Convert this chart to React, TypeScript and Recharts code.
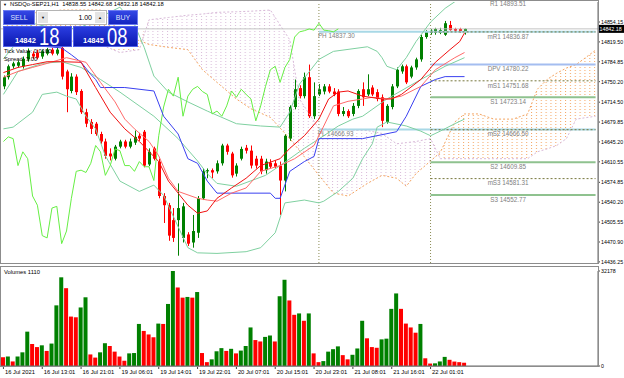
import React from 'react'
import { Area, Bar, Cell, ComposedChart, Line, ReferenceLine, XAxis, YAxis } from 'recharts'

const FONT = '"Liberation Sans", Arial, sans-serif'

// hourly candles, 16 Jul - 22 Jul 2021
const opens = [
  14742, 14758, 14777, 14778, 14777, 14789, 14799, 14801, 14794, 14799, 14806, 14799,
  14809, 14768, 14734, 14759, 14734, 14697, 14680, 14677, 14659, 14646, 14625, 14616,
  14637, 14646, 14637, 14644, 14656, 14663, 14606, 14634, 14611, 14551, 14535, 14509,
  14509, 14478, 14484, 14470, 14487, 14547, 14594, 14596, 14594, 14608, 14639, 14625,
  14590, 14616, 14635, 14630, 14616, 14616, 14596, 14609, 14608, 14604, 14578, 14651,
  14706, 14739, 14725, 14758, 14690, 14728, 14733, 14742, 14733, 14733, 14694, 14699,
  14694, 14708, 14737, 14728, 14740, 14732, 14723, 14680, 14706, 14742, 14768, 14777,
  14759, 14775, 14789, 14828, 14835, 14835, 14835, 14832, 14849, 14842, 14842, 14838.55,
]
const highs = [
  14761, 14780, 14785, 14787, 14794, 14808, 14803, 14806, 14806, 14809, 14809, 14811,
  14811, 14771, 14765, 14763, 14737, 14703, 14685, 14680, 14663, 14651, 14634, 14640,
  14649, 14649, 14651, 14665, 14661, 14666, 14634, 14637, 14616, 14556, 14539, 14530,
  14573, 14539, 14488, 14518, 14551, 14599, 14599, 14599, 14613, 14642, 14642, 14628,
  14608, 14637, 14640, 14639, 14621, 14621, 14616, 14615, 14613, 14611, 14659, 14709,
  14754, 14744, 14766, 14780, 14749, 14746, 14746, 14746, 14739, 14737, 14706, 14702,
  14713, 14737, 14749, 14763, 14744, 14737, 14728, 14711, 14746, 14775, 14780, 14780,
  14778, 14792, 14832, 14840, 14842, 14844, 14844, 14856, 14856, 14844, 14844, 14842.68,
]
const lows = [
  14737, 14754, 14773, 14775, 14773, 14785, 14790, 14789, 14790, 14796, 14796, 14796,
  14754, 14697, 14730, 14727, 14694, 14671, 14659, 14656, 14642, 14616, 14613, 14613,
  14634, 14634, 14634, 14640, 14647, 14601, 14603, 14613, 14547, 14504, 14473, 14471,
  14447, 14470, 14464, 14461, 14478, 14544, 14582, 14582, 14590, 14604, 14623, 14583,
  14585, 14613, 14625, 14599, 14599, 14589, 14590, 14599, 14599, 14518, 14559, 14647,
  14702, 14721, 14721, 14687, 14685, 14725, 14728, 14730, 14725, 14690, 14690, 14687,
  14690, 14704, 14708, 14725, 14725, 14716, 14671, 14677, 14702, 14739, 14764, 14746,
  14756, 14771, 14785, 14825, 14832, 14832, 14833, 14830, 14839, 14837, 14835, 14832.18,
]
const closes = [
  14758, 14777, 14782, 14784, 14790, 14804, 14794, 14792, 14803, 14806, 14799, 14806,
  14759, 14737, 14759, 14732, 14697, 14677, 14668, 14659, 14646, 14621, 14620, 14637,
  14646, 14637, 14646, 14654, 14651, 14604, 14628, 14616, 14551, 14535, 14482, 14478,
  14530, 14533, 14468, 14490, 14547, 14594, 14596, 14592, 14608, 14639, 14628, 14587,
  14604, 14633, 14630, 14604, 14604, 14594, 14611, 14602, 14602, 14578, 14656, 14706,
  14737, 14725, 14758, 14690, 14725, 14737, 14742, 14733, 14728, 14694, 14699, 14690,
  14708, 14734, 14723, 14737, 14728, 14720, 14682, 14708, 14742, 14771, 14777, 14749,
  14775, 14789, 14828, 14837, 14839, 14842, 14840, 14852, 14840, 14839, 14837, 14842.18,
]
const volumes = [
  2968, 3206, 1544, 3206, 4631, 11636, 7480, 6412, 7005, 5106, 7599, 20541,
  30040, 26359, 16742, 16504, 19829, 23272, 3918, 2850, 4631, 7718, 6768, 4868,
  3206, 1781, 4275, 4393, 14248, 11874, 10686, 9736, 14367, 14248, 21016, 32178,
  26597, 23154, 23391, 23154, 25054, 4393, 1306, 2256, 4987, 6056, 5106, 5818,
  4275, 5224, 6768, 13061, 8787, 8312, 9855, 10330, 8312, 23629, 29209, 22204,
  17336, 17811, 15317, 17811, 4275, 1306, 1662, 4868, 5699, 6649, 3681, 2256,
  3800, 5937, 15317, 9380, 6412, 6174, 9024, 9261, 19354, 24579, 19354, 14367,
  13061, 11280, 14248, 2612, 831, 900, 1544, 3087, 2100, 1500, 1300, 1110,
]

const timeLabels = [
  '16 Jul 2021', '16 Jul 13:01', '16 Jul 21:01', '19 Jul 06:01', '19 Jul 14:01', '19 Jul 22:01',
  '20 Jul 07:01', '20 Jul 15:01', '20 Jul 23:01', '21 Jul 08:01', '21 Jul 16:01', '22 Jul 01:01',
]
const labelBars = [0, 8, 16, 24, 32, 40, 48, 56, 64, 72, 80, 88]
const priceTicks = [
  14854.15, 14819.5, 14784.85, 14750.2, 14714.5, 14679.85, 14645.2,
  14610.55, 14574.85, 14540.2, 14505.55, 14470.9, 14436.25,
]

// indicator readings as [bar, price]
const maFast = [
  [0, 14766], [3, 14775], [6, 14780], [9, 14785], [12, 14785], [16, 14784], [19, 14740], [22, 14697],
  [25, 14668], [28, 14646], [32, 14611], [34, 14577], [38, 14535], [40, 14521], [42, 14525], [44, 14547],
  [47, 14565], [50, 14582], [53, 14604], [57, 14616], [59, 14634], [62, 14656], [65, 14685], [67, 14720],
  [69, 14732], [71, 14734], [74, 14725], [78, 14720], [80, 14720], [82, 14728], [86, 14754], [89, 14784],
  [92, 14806], [94, 14820], [95, 14835],
]
const maSlow = [
  [0, 14758], [3, 14768], [6, 14775], [9, 14782], [13, 14792], [17, 14784], [20, 14749], [23, 14715],
  [25, 14685], [27, 14668], [30, 14646], [32, 14621], [34, 14582], [36, 14559], [40, 14547], [42, 14544],
  [44, 14542], [47, 14556], [50, 14565], [53, 14594], [57, 14604], [60, 14616], [64, 14639], [66, 14673],
  [68, 14708], [71, 14716], [74, 14720], [76, 14723], [79, 14720], [82, 14725], [86, 14742], [89, 14771],
  [93, 14792], [95, 14801],
]
const kijun = [
  [0, 14815], [8, 14812], [12, 14809], [14, 14797], [16, 14784], [18, 14763], [19, 14754], [20, 14740],
  [25, 14740], [31, 14734], [33, 14690], [36, 14659], [38, 14616], [40, 14608], [42, 14577], [44, 14556],
  [55, 14556], [56, 14547], [57, 14547], [59, 14594], [62, 14611], [64, 14620], [65, 14651], [74, 14651],
  [81, 14663], [83, 14690], [86, 14742], [89, 14754], [91, 14759], [95, 14759],
]
const bandUpper = [
  [0, 14790], [6, 14852], [12, 14840], [16, 14845], [20, 14863], [24, 14880], [27, 14850], [29, 14810],
  [31, 14760], [34, 14732], [38, 14715], [42, 14699], [48, 14677], [53, 14673], [57, 14671], [59, 14697],
  [61, 14746], [65, 14789], [68, 14803], [75, 14811], [77, 14803], [78, 14792], [79, 14777], [81, 14771],
  [83, 14792], [85, 14820], [88, 14854], [91, 14878], [95, 14901],
]
const bandMiddle = [
  [0, 14728], [3, 14768], [8, 14782], [12, 14785], [16, 14775], [20, 14754], [24, 14732], [31, 14690],
  [36, 14651], [40, 14612], [42, 14590], [44, 14573], [48, 14568], [54, 14587], [57, 14604], [59, 14616],
  [62, 14634], [66, 14656], [69, 14673], [72, 14685], [74, 14690], [79, 14720], [86, 14754], [91, 14777],
  [95, 14792],
]
const bandLower = [
  [0, 14668], [2, 14671], [6, 14697], [8, 14728], [11, 14732], [13, 14725], [15, 14720], [17, 14690],
  [19, 14668], [21, 14621], [24, 14577], [28, 14559], [31, 14570], [33, 14552], [38, 14461], [40, 14452],
  [44, 14451], [50, 14454], [53, 14461], [56, 14487], [58, 14539], [62, 14544], [65, 14539], [66, 14542],
  [69, 14559], [72, 14582], [74, 14616], [76, 14642], [77, 14671], [79, 14680], [83, 14673], [86, 14664],
  [88, 14656], [90, 14664], [93, 14677], [95, 14685],
]

// ichimoku cloud, projected 26 bars ahead
const cloudBars = [
  0, 6, 12, 20, 24, 28, 30, 34, 38, 41, 44, 48, 51, 55, 59, 61, 65, 68, 71,
  75, 78, 81, 83, 85, 88, 90, 93, 95, 98, 101, 105, 108, 110, 112, 114, 116, 118, 122,
]
const senkouA = [
  14866, 14870, 14875, 14875, 14840, 14822, 14815, 14810, 14806, 14771, 14749, 14720, 14703, 14688, 14651, 14630, 14587, 14556, 14551,
  14573, 14587, 14582, 14568, 14590, 14612, 14627, 14680, 14694, 14694, 14685, 14685, 14694, 14737, 14754, 14765, 14774, 14780, 14805,
]
const senkouB = [
  14823, 14823, 14823, 14815, 14801, 14806, 14858, 14862, 14866, 14868, 14871, 14872, 14873, 14875, 14823, 14720, 14668, 14667, 14666,
  14665, 14660, 14642, 14644, 14646, 14651, 14616, 14616, 14616, 14616, 14616, 14616, 14616, 14628, 14633, 14639, 14651, 14685, 14690,
]

const pivotNames = ['R1', 'mR1', 'DPV', 'mS1', 'S1', 'mS2', 'S2', 'mS3', 'S3']
const pivotValues = [14893.51, 14836.87, 14780.22, 14751.68, 14723.14, 14666.5, 14609.85, 14581.31, 14552.77]
const dayHigh = 14837.3
const dayLow = 14666.93
const bid = 14842.18
const daySeparators = [65, 88]
const TOTAL_BARS = 123

const pivotStyle = (name: string) =>
  name.startsWith('m')
    ? { stroke: '#77773c', strokeWidth: 1, strokeDasharray: '2 2' }
    : name === 'DPV'
    ? { stroke: '#a4bdf0', strokeWidth: 2 }
    : { stroke: '#8fc28f', strokeWidth: 2 }

type Row = { [k: string]: any }
const rows: Row[] = Array.from({ length: TOTAL_BARS }, (_, i) => ({ i }))
opens.forEach((o, i) => {
  Object.assign(rows[i], { o, h: highs[i], l: lows[i], c: closes[i], range: [lows[i], highs[i]] })
})
const put = (key: string, pts: number[][]) => pts.forEach(([b, v]) => (rows[b][key] = v))
put('fast', maFast)
put('slow', maSlow)
put('kijun', kijun)
put('bbU', bandUpper)
put('bbM', bandMiddle)
put('bbL', bandLower)
closes.forEach((c, i) => {
  if (i >= 26) rows[i - 26].chikou = c
})
cloudBars.forEach((b, k) => {
  const a = senkouA[k]
  const s = senkouB[k]
  const top = Math.max(a, s)
  Object.assign(rows[b], { spanA: a, spanB: s, cloudUp: [s, top], cloudDn: [a, top] })
})

const volRows = Array.from({ length: TOTAL_BARS }, (_, i) => ({ i, vol: volumes[i] ?? null }))
const volColors = volumes.map((v, i) => (i > 0 && v > volumes[i - 1] ? '#008000' : '#ff0000'))

function Candle(props: any) {
  const { x, y, width, height, payload } = props
  if (!payload || payload.o == null) return null
  const { o, h, l, c } = payload
  const top = Math.min(y, y + height)
  const span = Math.abs(height)
  const k = h > l ? span / (h - l) : 0
  const cx = Math.round(x + width / 2)
  const bTop = top + (h - Math.max(o, c)) * k
  const bBot = top + (h - Math.min(o, c)) * k
  const col = c >= o ? '#008000' : '#ff0000'
  return (
    <g>
      <line x1={cx + 0.5} x2={cx + 0.5} y1={top} y2={top + span} stroke={col} strokeWidth={1} />
      <rect x={cx - 1} y={bTop} width={3} height={Math.max(1, bBot - bTop)} fill={col} />
    </g>
  )
}

function PivotTag({ viewBox, text }: any) {
  if (!viewBox) return null
  return (
    <text x={viewBox.x + viewBox.width * 0.47} y={viewBox.y + 4.5} dy="0.35em" textAnchor="middle"
      fontSize={6.3} fill="#808080" fontFamily={FONT}>{text}</text>
  )
}

function DayTag({ viewBox, text }: any) {
  if (!viewBox) return null
  return (
    <text x={viewBox.x - 1} y={viewBox.y + 4.5} dy="0.35em" fontSize={6.3} fill="#808080" fontFamily={FONT}>{text}</text>
  )
}

function BidTag({ viewBox }: any) {
  if (!viewBox) return null
  const x = viewBox.x + viewBox.width
  return (
    <g>
      <rect x={x} y={viewBox.y - 4} width={26} height={8} fill="#000" />
      <text x={x + 1.5} y={viewBox.y} dy="0.35em" fontSize={5.3} fill="#fff" fontFamily={FONT}>{bid.toFixed(2)}</text>
    </g>
  )
}

function TimeTick({ x, y, payload }: any) {
  const k = labelBars.indexOf(payload.value)
  return (
    <text x={x + 1.5} y={y} dy="0.71em" fontSize={5.8} fill="#000" fontFamily={FONT}>{timeLabels[k]}</text>
  )
}

const axisTick = { fontSize: 5.3, fill: '#000', fontFamily: FONT }

function Trade() {
  const blue = 'linear-gradient(#3448e6, #1424c0)'
  const btn: React.CSSProperties = {
    position: 'absolute', top: 10, height: 15, background: blue, color: '#dfe4ff', fontSize: 7,
    display: 'flex', alignItems: 'center', justifyContent: 'center', boxSizing: 'border-box', border: '1px solid #6d7cf0',
  }
  const priceBox: React.CSSProperties = {
    position: 'absolute', top: 26, height: 21, background: 'linear-gradient(#2a3de0, #0c18b0)', color: '#fff',
    boxSizing: 'border-box', border: '1px solid #5060e8',
  }
  return (
    <>
      <div style={{ ...btn, left: 3, width: 32 }}>SELL</div>
      <div style={{ position: 'absolute', left: 36, top: 10, width: 71, height: 15, background: '#fff', border: '1px solid #b4b4b4', boxSizing: 'border-box' }}>
        <div style={{ position: 'absolute', left: 1, top: 1, width: 10, height: 11, background: '#e4e4e4', fontSize: 4, textAlign: 'center', lineHeight: '11px' }}>▼</div>
        <div style={{ position: 'absolute', right: 14, top: 0, fontSize: 7, lineHeight: '13px', color: '#000' }}>1.00</div>
        <div style={{ position: 'absolute', right: 1, top: 1, width: 10, height: 11, background: '#e4e4e4', fontSize: 4, textAlign: 'center', lineHeight: '11px' }}>▲</div>
      </div>
      <div style={{ ...btn, left: 108, width: 30 }}>BUY</div>
      <div style={{ ...priceBox, left: 3, width: 69 }}>
        <span style={{ position: 'absolute', left: 11, top: 9, fontSize: 7.5, fontWeight: 'bold' }}>14842</span>
        <span style={{ position: 'absolute', left: 35, top: -3, fontSize: 23, display: 'inline-block', transform: 'scaleX(0.8)', transformOrigin: 'left' }}>18</span>
      </div>
      <div style={{ ...priceBox, left: 73, width: 65 }}>
        <span style={{ position: 'absolute', left: 9, top: 9, fontSize: 7.5, fontWeight: 'bold' }}>14845</span>
        <span style={{ position: 'absolute', left: 33, top: -3, fontSize: 23, display: 'inline-block', transform: 'scaleX(0.8)', transformOrigin: 'left' }}>08</span>
      </div>
    </>
  )
}

export default function App() {
  return (
    <div style={{ position: 'absolute', left: 0, top: 0, width: 624, height: 378, background: '#fff', fontFamily: FONT, overflow: 'hidden' }}>
      <div style={{ position: 'absolute', left: 0, top: 0 }}>
        <ComposedChart width={624} height={264} data={rows} margin={{ top: 2, right: 0, bottom: 1, left: 1 }}>
          <defs>
            <pattern id="dotOrange" x={0} y={0} width={4.854} height={3} patternUnits="userSpaceOnUse">
              <rect x={2} y={1} width={1} height={1} fill="#f4a460" />
            </pattern>
            <pattern id="dotThistle" x={0} y={0} width={4.854} height={3} patternUnits="userSpaceOnUse">
              <rect x={2} y={1} width={1} height={1} fill="#d8b8d8" />
            </pattern>
          </defs>
          <XAxis dataKey="i" type="category" hide />
          <YAxis orientation="right" type="number" width={26} domain={[14434.3, 14889]} ticks={priceTicks}
            interval={0} allowDataOverflow tick={axisTick} tickSize={2} tickMargin={1}
            tickLine={{ stroke: '#444' }} axisLine={{ stroke: '#6a6a6a' }} tickFormatter={(v: number) => v.toFixed(2)} />
          <Area dataKey="cloudUp" stroke="none" fill="url(#dotOrange)" fillOpacity={1} connectNulls isAnimationActive={false} />
          <Area dataKey="cloudDn" stroke="none" fill="url(#dotThistle)" fillOpacity={1} connectNulls isAnimationActive={false} />
          <Line dataKey="spanA" stroke="#f4a460" strokeDasharray="2 2" dot={false} connectNulls isAnimationActive={false} />
          <Line dataKey="spanB" stroke="#d8b8d8" strokeDasharray="2 2" dot={false} connectNulls isAnimationActive={false} />
          {daySeparators.map((b) => (
            <ReferenceLine key={b} x={b} stroke="#8c8c55" strokeDasharray="1 2" />
          ))}
          <ReferenceLine y={bid} stroke="#c4c4c4" label={<BidTag />} />
          <ReferenceLine segment={[{ x: 65, y: dayHigh }, { x: 122, y: dayHigh }]} stroke="#a8d8e6" strokeWidth={2}
            label={<DayTag text={`PH ${dayHigh.toFixed(2)}`} />} />
          <ReferenceLine segment={[{ x: 65, y: dayLow }, { x: 122, y: dayLow }]} stroke="#a8d8e6" strokeWidth={2}
            label={<DayTag text={`PL ${dayLow.toFixed(2)}`} />} />
          {pivotNames.map((n, k) => (
            <ReferenceLine key={n} segment={[{ x: 88, y: pivotValues[k] }, { x: 122, y: pivotValues[k] }]}
              ifOverflow="visible" {...pivotStyle(n)}
              label={<PivotTag text={`${n} ${pivotValues[k].toFixed(2)}`} />} />
          ))}
          <Bar dataKey="range" barSize={3} shape={<Candle />} isAnimationActive={false} />
          <Line dataKey="bbU" stroke="#7fd0a0" dot={false} connectNulls isAnimationActive={false} />
          <Line dataKey="bbM" stroke="#7fd0a0" dot={false} connectNulls isAnimationActive={false} />
          <Line dataKey="bbL" stroke="#7fd0a0" dot={false} connectNulls isAnimationActive={false} />
          <Line dataKey="chikou" stroke="#66ee44" dot={false} isAnimationActive={false} />
          <Line dataKey="kijun" stroke="#3a40f0" dot={false} connectNulls isAnimationActive={false} />
          <Line dataKey="slow" stroke="#ff6a6a" dot={false} connectNulls isAnimationActive={false} />
          <Line dataKey="fast" stroke="#f01010" dot={false} connectNulls isAnimationActive={false} />
        </ComposedChart>
      </div>
      <div style={{ position: 'absolute', left: 0, top: 266 }}>
        <ComposedChart width={624} height={112} data={volRows} margin={{ top: 5, right: 0, bottom: 0, left: 1 }}>
          <XAxis dataKey="i" type="category" ticks={labelBars} interval={0} height={12} tick={<TimeTick />}
            tickSize={3} tickMargin={1} tickLine={{ stroke: '#444' }} axisLine={{ stroke: '#6a6a6a' }} />
          <YAxis orientation="right" type="number" width={26} domain={[0, 32178]} ticks={[0, 32178]} interval={0}
            tick={axisTick} tickSize={2} tickMargin={1} tickLine={{ stroke: '#444' }} axisLine={{ stroke: '#6a6a6a' }} />
          <Bar dataKey="vol" barSize={4} isAnimationActive={false}>
            {volRows.map((r, i) => (
              <Cell key={i} fill={volColors[i] ?? '#008000'} />
            ))}
          </Bar>
        </ComposedChart>
      </div>
      <div style={{ position: 'absolute', left: 0, top: 0, width: 597, height: 262, border: '1px solid #8c8c8c', pointerEvents: 'none' }} />
      <div style={{ position: 'absolute', left: 0, top: 266, width: 597, height: 99, border: '1px solid #8c8c8c', pointerEvents: 'none' }} />
      <div style={{ position: 'absolute', left: 3, top: 1, fontSize: 5.8, color: '#000', whiteSpace: 'nowrap' }}>
        <span style={{ fontSize: 4, marginRight: 3 }}>▼</span>NSDQo-SEP21,H1&nbsp; 14838.55 14842.68 14832.18 14842.18
      </div>
      <Trade />
      <div style={{ position: 'absolute', left: 4, top: 47, fontSize: 5.8, lineHeight: '8px', color: '#000' }}>
        Tick Value: 0.0100<br />Spread: 3.00
      </div>
      <div style={{ position: 'absolute', left: 4, top: 269, fontSize: 5.8, color: '#000' }}>Volumes 1110</div>
    </div>
  )
}
